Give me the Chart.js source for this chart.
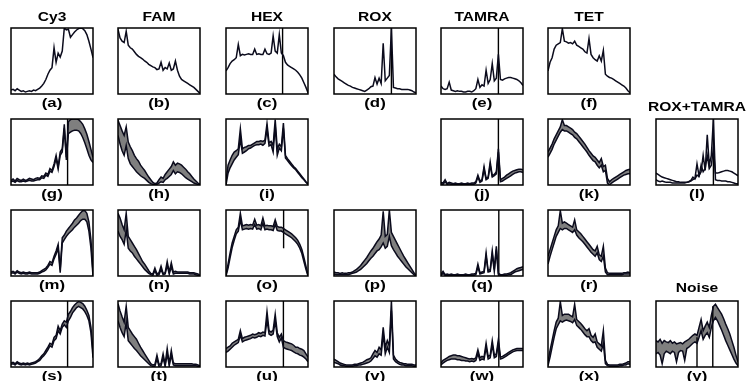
<!DOCTYPE html>
<html>
<head>
<meta charset="utf-8">
<script src="https://cdn.jsdelivr.net/npm/chart.js@4.4.0/dist/chart.umd.min.js"></script>
<style>
  body { margin: 0; background: #fff; width: 754px; height: 381px; position: relative; overflow: hidden; font-family: "Liberation Sans", Arial, sans-serif; }
  canvas { position: absolute; }
  .txt { position: absolute; font-weight: bold; white-space: nowrap; color: #000; }
  .title { font-size: 12px; transform: translate(-50%, -50%) scaleX(1.3); }
  .lab { font-size: 12px; transform: translate(-50%, -50%) scaleX(1.4); }
</style>
</head>
<body>
<script>
// Column titles and panel letters
const columnTitles = ['Cy3', 'FAM', 'HEX', 'ROX', 'TAMRA', 'TET'];

// Row 1: pure dye spectra (41 samples each, 0 = bottom, 1 = top of panel)
const aLine = [0.06,0.07,0.05,0.08,0.06,0.04,0.05,0.03,0.04,0.05, 0.04,0.06,0.05,0.07,0.09,0.12,0.16,0.22,0.3,0.36, 0.4,0.7,0.48,0.62,0.56,0.65,1.0,0.97,0.98,0.86, 0.9,0.94,0.97,0.99,1.0,0.99,0.96,0.9,0.8,0.68, 0.55];
const bLine = [0.98,0.85,0.8,0.78,0.95,0.74,0.7,0.68,0.64,0.6, 0.57,0.55,0.53,0.5,0.48,0.45,0.43,0.41,0.4,0.37, 0.38,0.48,0.36,0.4,0.38,0.47,0.36,0.38,0.5,0.36, 0.27,0.22,0.2,0.18,0.16,0.14,0.12,0.1,0.07,0.04, 0.01];
const cLine = [0.35,0.4,0.46,0.5,0.52,0.55,0.75,0.58,0.6,0.59, 0.6,0.61,0.6,0.6,0.68,0.6,0.61,0.6,0.6,0.68, 0.61,0.6,0.62,0.88,0.65,0.62,0.9,0.62,0.58,0.48, 0.44,0.42,0.4,0.38,0.36,0.33,0.29,0.24,0.17,0.1, 0.02];
const dLine = [0.3,0.26,0.23,0.21,0.19,0.17,0.15,0.13,0.12,0.1, 0.09,0.08,0.07,0.06,0.05,0.04,0.06,0.08,0.11,0.12, 0.25,0.15,0.24,0.16,0.77,0.2,0.24,0.28,1.0,0.1, 0.09,0.08,0.08,0.07,0.07,0.07,0.07,0.06,0.05,0.03, 0.02];
const eLine = [0.12,0.08,0.07,0.08,0.18,0.06,0.05,0.04,0.05,0.04, 0.04,0.03,0.03,0.04,0.04,0.03,0.05,0.08,0.22,0.1, 0.14,0.12,0.36,0.16,0.22,0.46,0.2,0.24,0.6,0.22, 0.21,0.23,0.24,0.25,0.25,0.24,0.23,0.22,0.2,0.17, 0.13];
const fLine = [0.35,0.48,0.55,0.68,0.74,0.76,0.78,0.99,0.8,0.79, 0.77,0.78,0.76,0.8,0.74,0.72,0.7,0.68,0.64,0.62, 0.84,0.6,0.55,0.52,0.5,0.58,0.5,0.66,0.3,0.27, 0.25,0.24,0.22,0.2,0.18,0.16,0.14,0.12,0.09,0.05, 0.02];

// Row 2: estimated spectra, band upper / lower
const gHi = [0.07,0.09,0.06,0.1,0.08,0.07,0.09,0.07,0.08,0.1, 0.09,0.08,0.1,0.11,0.1,0.14,0.13,0.18,0.16,0.25, 0.22,0.32,0.45,0.28,0.5,0.55,0.92,0.42,0.96,0.99, 1.0,1.0,1.0,0.99,0.96,0.92,0.85,0.77,0.66,0.54, 0.42];
const gLo = [0.05,0.06,0.04,0.07,0.05,0.05,0.06,0.05,0.06,0.07, 0.06,0.06,0.07,0.08,0.08,0.11,0.1,0.15,0.13,0.21, 0.19,0.28,0.4,0.24,0.45,0.5,0.86,0.38,0.78,0.8, 0.82,0.83,0.83,0.82,0.78,0.72,0.64,0.55,0.45,0.38, 0.34];
const hHi = [0.98,0.9,0.82,0.75,0.88,0.65,0.58,0.52,0.45,0.4, 0.36,0.3,0.26,0.22,0.17,0.12,0.08,0.04,0.02,0.03, 0.08,0.12,0.1,0.16,0.2,0.24,0.28,0.35,0.3,0.33, 0.32,0.3,0.27,0.24,0.2,0.17,0.13,0.09,0.06,0.03, 0.01];
const hLo = [0.75,0.62,0.52,0.45,0.6,0.4,0.32,0.28,0.24,0.2, 0.17,0.14,0.12,0.1,0.07,0.04,0.02,0.01,0.0,0.01, 0.03,0.05,0.04,0.08,0.1,0.13,0.16,0.22,0.17,0.2, 0.19,0.17,0.14,0.11,0.09,0.07,0.05,0.03,0.02,0.01, 0.0];
const iHi = [0.05,0.3,0.38,0.45,0.5,0.52,0.55,0.85,0.55,0.57, 0.58,0.6,0.6,0.62,0.64,0.66,0.66,0.67,0.66,0.68, 0.93,0.64,0.66,0.6,0.99,0.55,0.62,0.58,0.94,0.45, 0.4,0.36,0.32,0.28,0.25,0.21,0.17,0.13,0.09,0.05, 0.02];
const iLo = [0.0,0.18,0.26,0.32,0.38,0.42,0.46,0.7,0.48,0.5, 0.52,0.55,0.56,0.58,0.6,0.61,0.61,0.62,0.6,0.63, 0.85,0.59,0.61,0.5,0.9,0.45,0.56,0.52,0.86,0.41, 0.37,0.33,0.29,0.26,0.23,0.19,0.15,0.11,0.08,0.04, 0.01];
const jHi = [0.04,0.03,0.08,0.02,0.04,0.03,0.02,0.03,0.02,0.02, 0.03,0.02,0.02,0.03,0.02,0.03,0.03,0.05,0.15,0.06, 0.08,0.28,0.1,0.12,0.35,0.14,0.16,0.2,0.55,0.08, 0.1,0.12,0.15,0.17,0.19,0.21,0.22,0.23,0.24,0.24, 0.23];
const jLo = [0.02,0.01,0.05,0.01,0.02,0.01,0.01,0.01,0.01,0.01, 0.01,0.01,0.01,0.01,0.01,0.01,0.01,0.03,0.12,0.04, 0.06,0.24,0.08,0.1,0.3,0.12,0.14,0.17,0.5,0.05, 0.06,0.08,0.1,0.12,0.14,0.16,0.18,0.19,0.2,0.2, 0.19];
const kHi = [0.5,0.56,0.62,0.7,0.76,0.82,0.88,0.99,0.9,0.9, 0.88,0.86,0.84,0.8,0.78,0.74,0.7,0.66,0.62,0.57, 0.52,0.48,0.44,0.42,0.38,0.34,0.4,0.28,0.3,0.1, 0.05,0.08,0.1,0.12,0.14,0.16,0.18,0.2,0.22,0.23, 0.24];
const kLo = [0.42,0.48,0.54,0.62,0.68,0.74,0.8,0.84,0.82,0.82, 0.8,0.78,0.76,0.72,0.7,0.66,0.62,0.58,0.54,0.5, 0.45,0.41,0.37,0.35,0.3,0.26,0.3,0.2,0.22,0.03, 0.0,0.03,0.05,0.07,0.09,0.11,0.13,0.15,0.16,0.17, 0.17];
const lRox = [0.18,0.16,0.14,0.12,0.11,0.1,0.09,0.08,0.07,0.06, 0.05,0.05,0.04,0.04,0.04,0.04,0.05,0.06,0.08,0.1, 0.32,0.14,0.2,0.45,0.22,0.76,0.3,0.45,1.0,0.08, 0.07,0.07,0.06,0.06,0.06,0.05,0.05,0.04,0.03,0.02, 0.02];
const lTamra = [0.08,0.06,0.05,0.06,0.05,0.04,0.04,0.04,0.03,0.03, 0.03,0.03,0.03,0.03,0.03,0.04,0.05,0.07,0.12,0.09, 0.15,0.13,0.3,0.2,0.25,0.45,0.25,0.3,0.55,0.18, 0.18,0.19,0.2,0.21,0.22,0.22,0.21,0.2,0.18,0.16, 0.14];

// Row 3
const mHi = [0.06,0.07,0.05,0.08,0.06,0.05,0.06,0.05,0.05,0.06, 0.05,0.05,0.05,0.05,0.06,0.08,0.1,0.12,0.16,0.22, 0.2,0.3,0.38,0.48,0.1,0.58,0.62,0.68,0.72,0.76, 0.8,0.85,0.88,0.92,0.96,0.99,0.99,0.95,0.82,0.55, 0.05];
const mLo = [0.04,0.05,0.03,0.06,0.04,0.03,0.04,0.03,0.03,0.04, 0.03,0.03,0.03,0.03,0.04,0.06,0.07,0.09,0.13,0.18, 0.16,0.26,0.33,0.42,0.05,0.5,0.55,0.6,0.64,0.67, 0.7,0.74,0.77,0.8,0.84,0.86,0.86,0.82,0.68,0.42, 0.0];
const nHi = [0.95,0.88,0.78,0.7,0.95,0.6,0.55,0.5,0.45,0.4, 0.34,0.28,0.22,0.18,0.13,0.08,0.04,0.03,0.12,0.03, 0.05,0.15,0.04,0.05,0.22,0.06,0.2,0.06,0.07,0.06, 0.06,0.06,0.06,0.06,0.06,0.05,0.05,0.05,0.04,0.03, 0.01];
const nLo = [0.68,0.6,0.55,0.48,0.7,0.42,0.38,0.35,0.3,0.26, 0.22,0.18,0.14,0.1,0.07,0.04,0.02,0.01,0.08,0.01, 0.02,0.1,0.02,0.03,0.16,0.03,0.14,0.03,0.04,0.04, 0.04,0.04,0.04,0.04,0.04,0.03,0.03,0.03,0.02,0.01, 0.0];
const oHi = [0.02,0.18,0.35,0.5,0.6,0.7,0.74,0.95,0.76,0.77, 0.78,0.77,0.78,0.77,0.86,0.77,0.78,0.76,0.88,0.76, 0.77,0.76,0.76,0.75,0.85,0.75,0.74,0.74,0.72,0.7, 0.68,0.66,0.64,0.61,0.58,0.54,0.48,0.4,0.28,0.15, 0.01];
const oLo = [0.0,0.12,0.28,0.43,0.54,0.64,0.68,0.85,0.7,0.71, 0.72,0.71,0.72,0.71,0.78,0.71,0.72,0.7,0.8,0.7, 0.71,0.7,0.7,0.69,0.78,0.69,0.68,0.68,0.66,0.64, 0.62,0.6,0.58,0.55,0.52,0.48,0.42,0.34,0.22,0.1, 0.0];
const pHi = [0.06,0.05,0.05,0.04,0.05,0.04,0.04,0.05,0.05,0.06, 0.08,0.1,0.13,0.16,0.2,0.24,0.28,0.33,0.38,0.42, 0.47,0.52,0.56,0.62,0.98,0.6,0.63,1.0,0.66,0.6, 0.54,0.48,0.42,0.36,0.3,0.25,0.2,0.15,0.1,0.05, 0.01];
const pLo = [0.03,0.02,0.02,0.02,0.02,0.02,0.02,0.02,0.03,0.04, 0.05,0.06,0.08,0.1,0.13,0.16,0.19,0.23,0.27,0.3, 0.34,0.38,0.4,0.44,0.5,0.42,0.45,0.6,0.46,0.4, 0.35,0.3,0.26,0.22,0.18,0.14,0.11,0.08,0.05,0.02, 0.0];
const qHi = [0.03,0.07,0.02,0.03,0.02,0.03,0.02,0.02,0.03,0.02, 0.02,0.02,0.03,0.02,0.02,0.03,0.03,0.04,0.18,0.05, 0.06,0.07,0.35,0.08,0.1,0.38,0.1,0.45,0.04,0.02, 0.02,0.03,0.03,0.04,0.05,0.07,0.09,0.11,0.12,0.13, 0.14];
const qLo = [0.01,0.04,0.01,0.01,0.01,0.01,0.01,0.01,0.01,0.01, 0.01,0.01,0.01,0.01,0.01,0.01,0.01,0.02,0.14,0.03, 0.04,0.05,0.3,0.06,0.07,0.33,0.07,0.4,0.02,0.01, 0.01,0.01,0.01,0.02,0.02,0.04,0.06,0.07,0.08,0.09, 0.1];
const rHi = [0.3,0.4,0.5,0.6,0.7,0.76,0.99,0.8,0.82,0.8, 0.78,0.76,0.74,0.85,0.7,0.67,0.64,0.6,0.56,0.52, 0.48,0.44,0.4,0.38,0.45,0.32,0.3,0.45,0.12,0.05, 0.04,0.04,0.04,0.04,0.04,0.04,0.04,0.05,0.05,0.06, 0.05];
const rLo = [0.18,0.3,0.4,0.5,0.6,0.66,0.72,0.7,0.72,0.72, 0.7,0.68,0.66,0.7,0.62,0.58,0.55,0.52,0.48,0.44, 0.4,0.36,0.33,0.3,0.35,0.25,0.22,0.3,0.06,0.02, 0.02,0.02,0.02,0.02,0.02,0.02,0.02,0.03,0.03,0.03, 0.03];

// Row 4
const sHi = [0.06,0.07,0.05,0.08,0.06,0.05,0.06,0.05,0.06,0.05, 0.06,0.07,0.08,0.1,0.13,0.17,0.2,0.25,0.3,0.36, 0.34,0.45,0.48,0.62,0.55,0.65,0.7,0.68,0.8,0.84, 0.9,0.94,0.97,0.99,0.98,0.96,0.92,0.86,0.78,0.6, 0.22];
const sLo = [0.04,0.05,0.03,0.06,0.04,0.03,0.04,0.03,0.04,0.03, 0.04,0.05,0.06,0.08,0.1,0.14,0.17,0.21,0.26,0.32, 0.3,0.4,0.43,0.55,0.5,0.6,0.64,0.6,0.7,0.75, 0.82,0.86,0.9,0.92,0.9,0.88,0.84,0.78,0.7,0.52, 0.14];
const tHi = [0.96,0.85,0.76,0.68,0.92,0.6,0.55,0.5,0.46,0.42, 0.36,0.3,0.25,0.2,0.15,0.1,0.05,0.03,0.04,0.18, 0.04,0.05,0.2,0.04,0.28,0.05,0.25,0.06,0.05,0.05, 0.05,0.05,0.05,0.05,0.05,0.05,0.05,0.04,0.04,0.03, 0.02];
const tLo = [0.7,0.6,0.52,0.46,0.68,0.4,0.36,0.32,0.28,0.25, 0.21,0.17,0.14,0.11,0.08,0.05,0.02,0.01,0.01,0.12, 0.01,0.02,0.14,0.01,0.2,0.02,0.18,0.03,0.02,0.02, 0.02,0.02,0.02,0.02,0.02,0.02,0.02,0.02,0.02,0.01, 0.01];
const uHi = [0.28,0.3,0.32,0.36,0.38,0.4,0.42,0.55,0.43,0.45, 0.46,0.47,0.48,0.5,0.49,0.5,0.52,0.51,0.53,0.52, 0.84,0.55,0.53,0.56,0.8,0.52,0.45,0.5,0.4,0.38, 0.37,0.36,0.35,0.33,0.3,0.3,0.28,0.27,0.25,0.2, 0.15];
const uLo = [0.22,0.24,0.27,0.3,0.33,0.35,0.37,0.48,0.38,0.4, 0.41,0.42,0.43,0.45,0.44,0.45,0.47,0.46,0.48,0.47, 0.72,0.5,0.48,0.5,0.7,0.46,0.38,0.44,0.3,0.28, 0.27,0.26,0.25,0.23,0.21,0.2,0.18,0.17,0.15,0.12, 0.08];
const vHi = [0.12,0.1,0.08,0.06,0.05,0.04,0.03,0.03,0.03,0.03, 0.04,0.04,0.05,0.06,0.07,0.09,0.11,0.12,0.14,0.2, 0.25,0.22,0.3,0.26,0.6,0.3,0.4,0.32,1.0,0.18, 0.12,0.09,0.07,0.06,0.05,0.05,0.04,0.04,0.04,0.03, 0.03];
const vLo = [0.07,0.06,0.05,0.03,0.02,0.02,0.01,0.01,0.01,0.01, 0.02,0.02,0.03,0.03,0.04,0.05,0.06,0.07,0.09,0.13, 0.17,0.15,0.2,0.18,0.5,0.2,0.3,0.22,0.85,0.12, 0.08,0.06,0.04,0.03,0.03,0.02,0.02,0.02,0.02,0.01, 0.01];
const wHi = [0.06,0.1,0.12,0.14,0.16,0.17,0.18,0.18,0.17,0.17, 0.16,0.15,0.14,0.13,0.12,0.13,0.12,0.14,0.26,0.14, 0.16,0.15,0.36,0.16,0.18,0.4,0.18,0.2,0.42,0.15, 0.16,0.18,0.2,0.22,0.24,0.26,0.27,0.28,0.28,0.28, 0.28];
const wLo = [0.03,0.06,0.08,0.1,0.11,0.12,0.12,0.12,0.11,0.11, 0.1,0.1,0.09,0.09,0.08,0.09,0.08,0.1,0.2,0.1, 0.12,0.11,0.3,0.12,0.14,0.34,0.14,0.16,0.36,0.12, 0.13,0.15,0.17,0.19,0.21,0.23,0.24,0.25,0.25,0.25, 0.25];
const xHi = [0.08,0.25,0.4,0.55,0.68,0.74,0.99,0.78,0.8,0.8, 0.8,0.78,0.76,0.95,0.72,0.69,0.66,0.62,0.58,0.55, 0.58,0.48,0.45,0.5,0.38,0.35,0.32,0.55,0.1,0.04, 0.03,0.03,0.03,0.03,0.03,0.04,0.04,0.05,0.06,0.08, 0.08];
const xLo = [0.02,0.15,0.3,0.45,0.58,0.64,0.7,0.68,0.7,0.71, 0.7,0.69,0.67,0.72,0.63,0.6,0.57,0.53,0.49,0.46, 0.46,0.4,0.37,0.38,0.3,0.27,0.24,0.35,0.05,0.02, 0.01,0.01,0.01,0.01,0.01,0.02,0.02,0.03,0.03,0.05, 0.04];
const yHi = [0.4,0.38,0.42,0.36,0.4,0.38,0.37,0.4,0.36,0.38, 0.35,0.36,0.37,0.35,0.38,0.4,0.42,0.45,0.48,0.5, 0.48,0.6,0.72,0.55,0.62,0.68,0.6,0.78,0.92,0.95, 0.9,0.85,0.8,0.73,0.65,0.58,0.5,0.4,0.3,0.18, 0.08];
const yLo = [0.2,0.22,0.18,0.05,0.2,0.24,0.22,0.2,0.24,0.22, 0.08,0.22,0.25,0.24,0.1,0.28,0.3,0.33,0.36,0.38, 0.36,0.45,0.55,0.42,0.48,0.52,0.45,0.6,0.7,0.75, 0.7,0.63,0.56,0.48,0.4,0.33,0.26,0.19,0.12,0.06, 0.02];

// Vertical markers (x in sample units) and partial segments [x, yFrom, yTo]
const cMarks = [27.6];
const dMarks = [28];
const eMarks = [28];
const gMarks = [27.6];
const jMarks = [28];
const lMarks = [28];
const qMarks = [28.2];
const sMarks = [27.6];
const uMarks = [28];
const wMarks = [28.2];
const oSegs = [[28.1, 0.42, 1.0]];
const ySegs = [[20, 0, 0.45], [27.7, 0, 0.92]];

// Grid layout (pixels)
const colLeft = [11, 118, 226, 334, 441, 548, 656];
const rowTop = [28, 119, 210, 301];
const W = 82, H = 66, PAD = 3;
const LINE = '#0b0b1c';
const BAND = '#7f7f7f';

const panels = [
  { id: 'a', col: 0, row: 0, lines: [aLine] },
  { id: 'b', col: 1, row: 0, lines: [bLine] },
  { id: 'c', col: 2, row: 0, lines: [cLine], marks: cMarks },
  { id: 'd', col: 3, row: 0, lines: [dLine], marks: dMarks },
  { id: 'e', col: 4, row: 0, lines: [eLine], marks: eMarks },
  { id: 'f', col: 5, row: 0, lines: [fLine] },
  { id: 'g', col: 0, row: 1, hi: gHi, lo: gLo, marks: gMarks },
  { id: 'h', col: 1, row: 1, hi: hHi, lo: hLo },
  { id: 'i', col: 2, row: 1, hi: iHi, lo: iLo },
  { id: 'j', col: 4, row: 1, hi: jHi, lo: jLo, marks: jMarks },
  { id: 'k', col: 5, row: 1, hi: kHi, lo: kLo },
  { id: 'l', col: 6, row: 1, lines: [lRox, lTamra], marks: lMarks },
  { id: 'm', col: 0, row: 2, hi: mHi, lo: mLo },
  { id: 'n', col: 1, row: 2, hi: nHi, lo: nLo },
  { id: 'o', col: 2, row: 2, hi: oHi, lo: oLo, segs: oSegs },
  { id: 'p', col: 3, row: 2, hi: pHi, lo: pLo },
  { id: 'q', col: 4, row: 2, hi: qHi, lo: qLo, marks: qMarks },
  { id: 'r', col: 5, row: 2, hi: rHi, lo: rLo },
  { id: 's', col: 0, row: 3, hi: sHi, lo: sLo, marks: sMarks },
  { id: 't', col: 1, row: 3, hi: tHi, lo: tLo },
  { id: 'u', col: 2, row: 3, hi: uHi, lo: uLo, marks: uMarks },
  { id: 'v', col: 3, row: 3, hi: vHi, lo: vLo },
  { id: 'w', col: 4, row: 3, hi: wHi, lo: wLo, marks: wMarks },
  { id: 'x', col: 5, row: 3, hi: xHi, lo: xLo },
  { id: 'y', col: 6, row: 3, hi: yHi, lo: yLo, segs: ySegs }
];

// Box around the plot area
const framePlugin = {
  id: 'frame',
  afterDraw(chart) {
    const { ctx, chartArea: a } = chart;
    ctx.save();
    ctx.strokeStyle = '#000';
    ctx.lineWidth = 1.5;
    ctx.strokeRect(a.left, a.top, a.right - a.left, a.bottom - a.top);
    ctx.restore();
  }
};

function addText(text, x, y, cls) {
  const d = document.createElement('div');
  d.className = 'txt ' + cls;
  d.textContent = text;
  d.style.left = x + 'px';
  d.style.top = y + 'px';
  document.body.appendChild(d);
}

const toXY = arr => arr.map((v, i) => ({ x: i, y: v }));

function makePanel(p) {
  const cv = document.createElement('canvas');
  cv.width = W + 2 * PAD;
  cv.height = H + 2 * PAD;
  cv.style.left = (colLeft[p.col] - PAD) + 'px';
  cv.style.top = (rowTop[p.row] - PAD) + 'px';
  document.body.appendChild(cv);

  const datasets = [];
  if (p.lo) {
    datasets.push({ data: toXY(p.lo), borderColor: LINE, borderWidth: 1.5, pointRadius: 0, fill: false });
    datasets.push({ data: toXY(p.hi), borderColor: LINE, borderWidth: 1.5, pointRadius: 0, fill: '-1', backgroundColor: BAND });
  }
  (p.lines || []).forEach(l => {
    datasets.push({ data: toXY(l), borderColor: LINE, borderWidth: 1.5, pointRadius: 0, fill: false });
  });
  (p.marks || []).forEach(m => {
    datasets.push({ data: [{ x: m, y: 0 }, { x: m, y: 1 }], borderColor: '#000', borderWidth: 1.4, pointRadius: 0, fill: false });
  });
  (p.segs || []).forEach(s => {
    datasets.push({ data: [{ x: s[0], y: s[1] }, { x: s[0], y: s[2] }], borderColor: '#000', borderWidth: 1.4, pointRadius: 0, fill: false });
  });

  new Chart(cv, {
    type: 'line',
    data: { datasets },
    options: {
      responsive: false,
      animation: false,
      events: [],
      layout: { padding: PAD },
      plugins: {
        legend: { display: false },
        tooltip: { enabled: false },
        filler: { drawTime: 'beforeDatasetsDraw' }
      },
      scales: {
        x: { type: 'linear', min: 0, max: 40, display: false },
        y: { min: 0, max: 1, display: false }
      }
    },
    plugins: [framePlugin]
  });

  addText('(' + p.id + ')', colLeft[p.col] + W / 2, rowTop[p.row] + H + 9, 'lab');
}

panels.forEach(makePanel);

columnTitles.forEach((t, i) => addText(t, colLeft[i] + W / 2, 17, 'title'));
addText('ROX+TAMRA', colLeft[6] + W / 2, 107, 'title');
addText('Noise', colLeft[6] + W / 2, 288, 'title');
</script>
</body>
</html>
